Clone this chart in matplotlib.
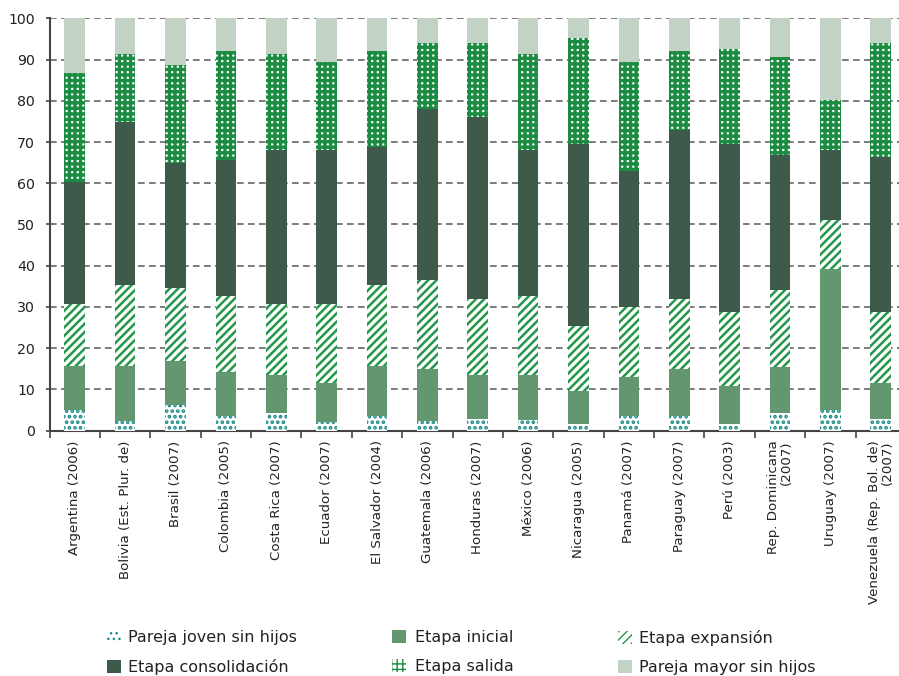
import numpy as np
import matplotlib
matplotlib.use("Agg")
import matplotlib.pyplot as plt

# data (percent of households per stage)
countries = ["Argentina (2006)", "Bolivia (Est. Plur. de)", "Brasil (2007)", "Colombia (2005)",
             "Costa Rica (2007)", "Ecuador (2007)", "El Salvador (2004)", "Guatemala (2006)",
             "Honduras (2007)", "México (2006)", "Nicaragua (2005)", "Panamá (2007)",
             "Paraguay (2007)", "Perú (2003)", "Rep. Dominicana\n(2007)", "Uruguay (2007)",
             "Venezuela (Rep. Bol. de)\n(2007)"]

joven = [4.9, 2.3, 6.2, 3.6, 4.2, 2.2, 3.6, 2.3, 2.9, 2.7, 1.5, 3.6, 3.6, 1.5, 4.2, 4.9, 2.8]
inicial = [10.7, 13.3, 10.7, 10.6, 9.3, 9.3, 12.0, 12.6, 10.6, 10.8, 8.1, 9.3, 11.3, 9.4, 11.3, 34.4, 8.7]
expansion = [15.2, 19.8, 17.8, 18.5, 17.3, 19.3, 19.8, 21.7, 18.5, 19.2, 15.9, 17.2, 17.1, 18.0, 18.7, 11.8, 17.4]
consolidacion = [29.6, 39.5, 30.3, 32.9, 37.3, 37.3, 33.5, 41.5, 44.1, 35.4, 44.1, 32.9, 40.8, 40.7, 32.7, 17.0, 37.4]
salida = [26.4, 16.4, 23.7, 26.4, 23.2, 21.3, 23.1, 15.8, 17.8, 23.2, 25.6, 26.4, 19.2, 23.0, 23.7, 12.1, 27.6]
mayor = [13.2, 8.7, 11.3, 8.0, 8.7, 10.6, 8.0, 6.1, 6.1, 8.7, 4.8, 10.6, 8.0, 7.4, 9.4, 19.8, 6.1]

series = [
    ("Pareja joven sin hijos", joven, "white", "#178a84", "...", 1.8),
    ("Etapa inicial", inicial, "#62976f", "#62976f", None, 1.0),
    ("Etapa expansión", expansion, "white", "#25974a", "////", 1.8),
    ("Etapa consolidación", consolidacion, "#3d5a4a", "#3d5a4a", None, 1.0),
    ("Etapa salida", salida, "white", "#1c8c42", "+++", 2.4),
    ("Pareja mayor sin hijos", mayor, "#c2d3c5", "#c2d3c5", None, 1.0),
]

plt.rcParams['font.family'] = ['DejaVu Sans']

fig = plt.figure(figsize=(8.99, 6.76), dpi=100)
ax = fig.add_axes([0.0551, 0.3629, 0.9527, 0.61])
ax.set_axisbelow(True)

x = np.arange(len(countries))
bottom = np.zeros(len(countries))
handles = []
for name, vals, fc, ec, hatch, hlw in series:
    with plt.rc_context({'hatch.linewidth': hlw}):
        bars = ax.bar(x, vals, 0.41, bottom=bottom, color=fc, edgecolor=ec,
                      hatch=hatch, linewidth=0, label=name, zorder=3)
    for b in bars:
        if hasattr(b, 'set_hatch_linewidth'):
            b.set_hatch_linewidth(hlw)
    handles.append(bars)
    bottom += np.array(vals)

ax.set_xlim(-0.5, len(countries) - 0.5)
ax.set_ylim(0, 100)
ax.set_yticks(np.arange(0, 101, 10))
ax.yaxis.grid(True, color="#666666", linestyle=(0, (4, 2.6)), linewidth=1.2)

for s in ["top", "right"]:
    ax.spines[s].set_visible(False)
for s in ["left", "bottom"]:
    ax.spines[s].set_color("#444444")
    ax.spines[s].set_linewidth(1.5)

ax.tick_params(axis="y", length=3, width=1.2, color="#444444", pad=7.5, labelsize=10.2, labelcolor="#222222")
ax.set_xticks(x)
ax.set_xticklabels(countries, rotation=90, fontsize=9.6, color="#222222",
                   va="top", ha="center", linespacing=0.95)
for t in ax.get_xticklabels():
    t.set_multialignment("right")
ax.tick_params(axis="x", which="major", length=0, pad=7)
ax.set_xticks(np.arange(-0.5, len(countries), 1), minor=True)
ax.tick_params(axis="x", which="minor", length=5, width=1.2, color="#444444")

# legend: three columns placed one by one
columns = [([0, 3], 107, 0.45), ([1, 4], 392, 0.6), ([2, 5], 618, 0.45)]
for idx, xpix, tpad in columns:
    leg = fig.legend([handles[i] for i in idx], [series[i][0] for i in idx],
                     loc="upper left", bbox_to_anchor=(xpix / 899, (676 - 630) / 676),
                     frameon=False, fontsize=11.5, handlelength=0.85, handleheight=0.85,
                     handletextpad=tpad, labelspacing=0.9, borderpad=0, borderaxespad=0)
    for t in leg.get_texts():
        t.set_color("#222222")

fig.savefig("out.png", dpi=100)
